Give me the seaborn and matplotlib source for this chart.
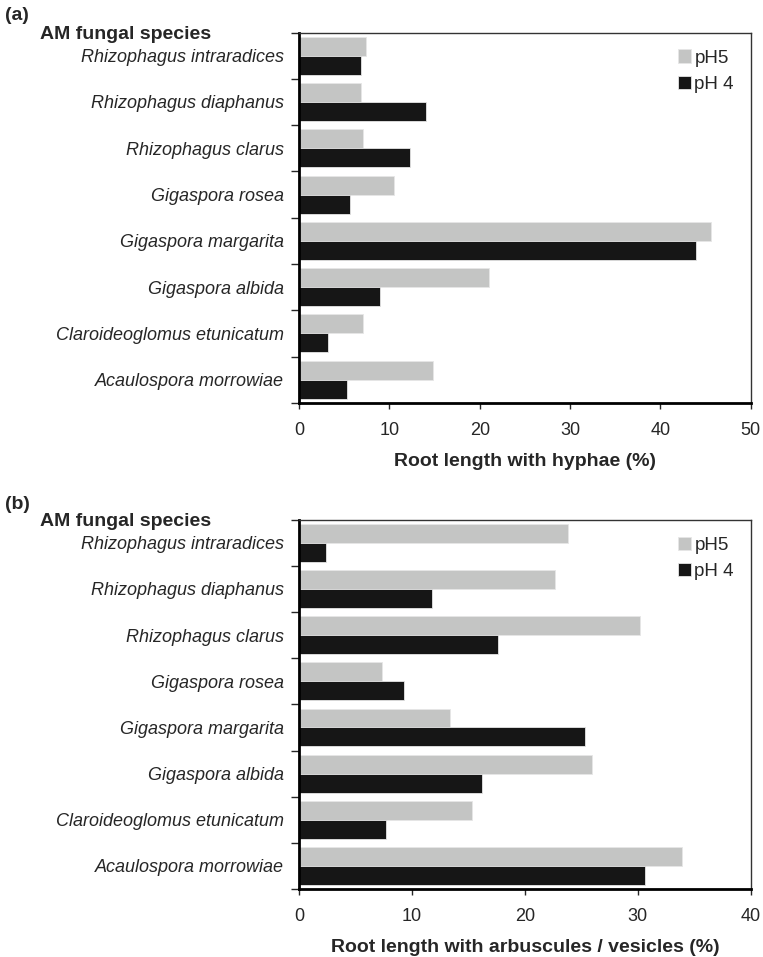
import seaborn as sns
import matplotlib.pyplot as plt
import pandas as pd

# Species shown on both panels (top to bottom)
species = ["Rhizophagus intraradices", "Rhizophagus diaphanus", "Rhizophagus clarus",
           "Gigaspora rosea", "Gigaspora margarita", "Gigaspora albida",
           "Claroideoglomus etunicatum", "Acaulospora morrowiae"]
treatments = ["pH5", "pH 4"]

# (a) root length with hyphae (%)
hyphae_ph5 = [7.4, 6.8, 7.1, 10.5, 45.6, 21.0, 7.1, 14.8]
hyphae_ph4 = [6.85, 14.0, 12.3, 5.65, 43.9, 9.0, 3.15, 5.25]

# (b) root length with arbuscules / vesicles (%)
arb_ph5 = [23.8, 22.7, 30.2, 7.3, 13.4, 25.9, 15.3, 33.9]
arb_ph4 = [2.4, 11.8, 17.6, 9.3, 25.3, 16.2, 7.7, 30.6]


def long_df(v5, v4):
    return pd.DataFrame({
        "species": species * 2,
        "pH": [treatments[0]] * len(species) + [treatments[1]] * len(species),
        "value": v5 + v4,
    })


sns.set_style("white")
plt.rcParams["font.family"] = ["Liberation Sans", "DejaVu Sans"]

palette = {"pH5": "#c4c5c4", "pH 4": "#161616"}

fig = plt.figure(figsize=(7.63, 9.57), dpi=100)
ax_a = fig.add_axes([0.392, 0.579, 0.592, 0.387])
ax_b = fig.add_axes([0.392, 0.071, 0.592, 0.386])

panels = [
    (ax_a, long_df(hyphae_ph5, hyphae_ph4), 50, "Root length with hyphae (%)", "(a)", 1.046),
    (ax_b, long_df(arb_ph5, arb_ph4), 40, "Root length with arbuscules / vesicles (%)", "(b)", 1.041),
]

for ax, df, xmax, xlabel, tag, tag_y in panels:
    sns.barplot(data=df, y="species", x="value", hue="pH", order=species,
                hue_order=treatments, palette=palette, orient="h",
                width=0.82, edgecolor="#e6e6e6", linewidth=0.6,
                errorbar=None, ax=ax)
    ax.set_xlim(0, xmax)
    ax.set_ylim(len(species) - 0.5, -0.5)
    ax.set_xticks(range(0, xmax + 1, 10))
    ax.tick_params(axis="x", labelsize=13, length=4, width=1, direction="out",
                   bottom=True, pad=10)
    ax.set_yticks(range(len(species)))
    ax.set_yticklabels(species, fontsize=13, style="italic")
    ax.tick_params(axis="y", length=0, pad=11)
    ax.set_yticks([i - 0.5 for i in range(len(species) + 1)], minor=True)
    ax.tick_params(axis="y", which="minor", length=6, width=1, left=True)
    ax.set_ylabel("")
    ax.set_xlabel(xlabel, fontsize=14, fontweight="bold", labelpad=10)
    for side in ["left", "bottom"]:
        ax.spines[side].set_linewidth(2)
        ax.spines[side].set_color("black")
    for side in ["top", "right"]:
        ax.spines[side].set_linewidth(1)
        ax.spines[side].set_color("#333333")
    ax.legend(loc="upper right", frameon=False, fontsize=13.5, handlelength=0.7,
              handleheight=0.7, handletextpad=0.2, labelspacing=0.5,
              borderaxespad=0.5)
    ax.text(-0.573, 0.995, "AM fungal species", transform=ax.transAxes,
            fontsize=14, fontweight="bold", ha="left", va="center")
    ax.text(-0.650, tag_y, tag, transform=ax.transAxes,
            fontsize=14, fontweight="bold", ha="left", va="center")

fig.savefig("out.png", dpi=100)
